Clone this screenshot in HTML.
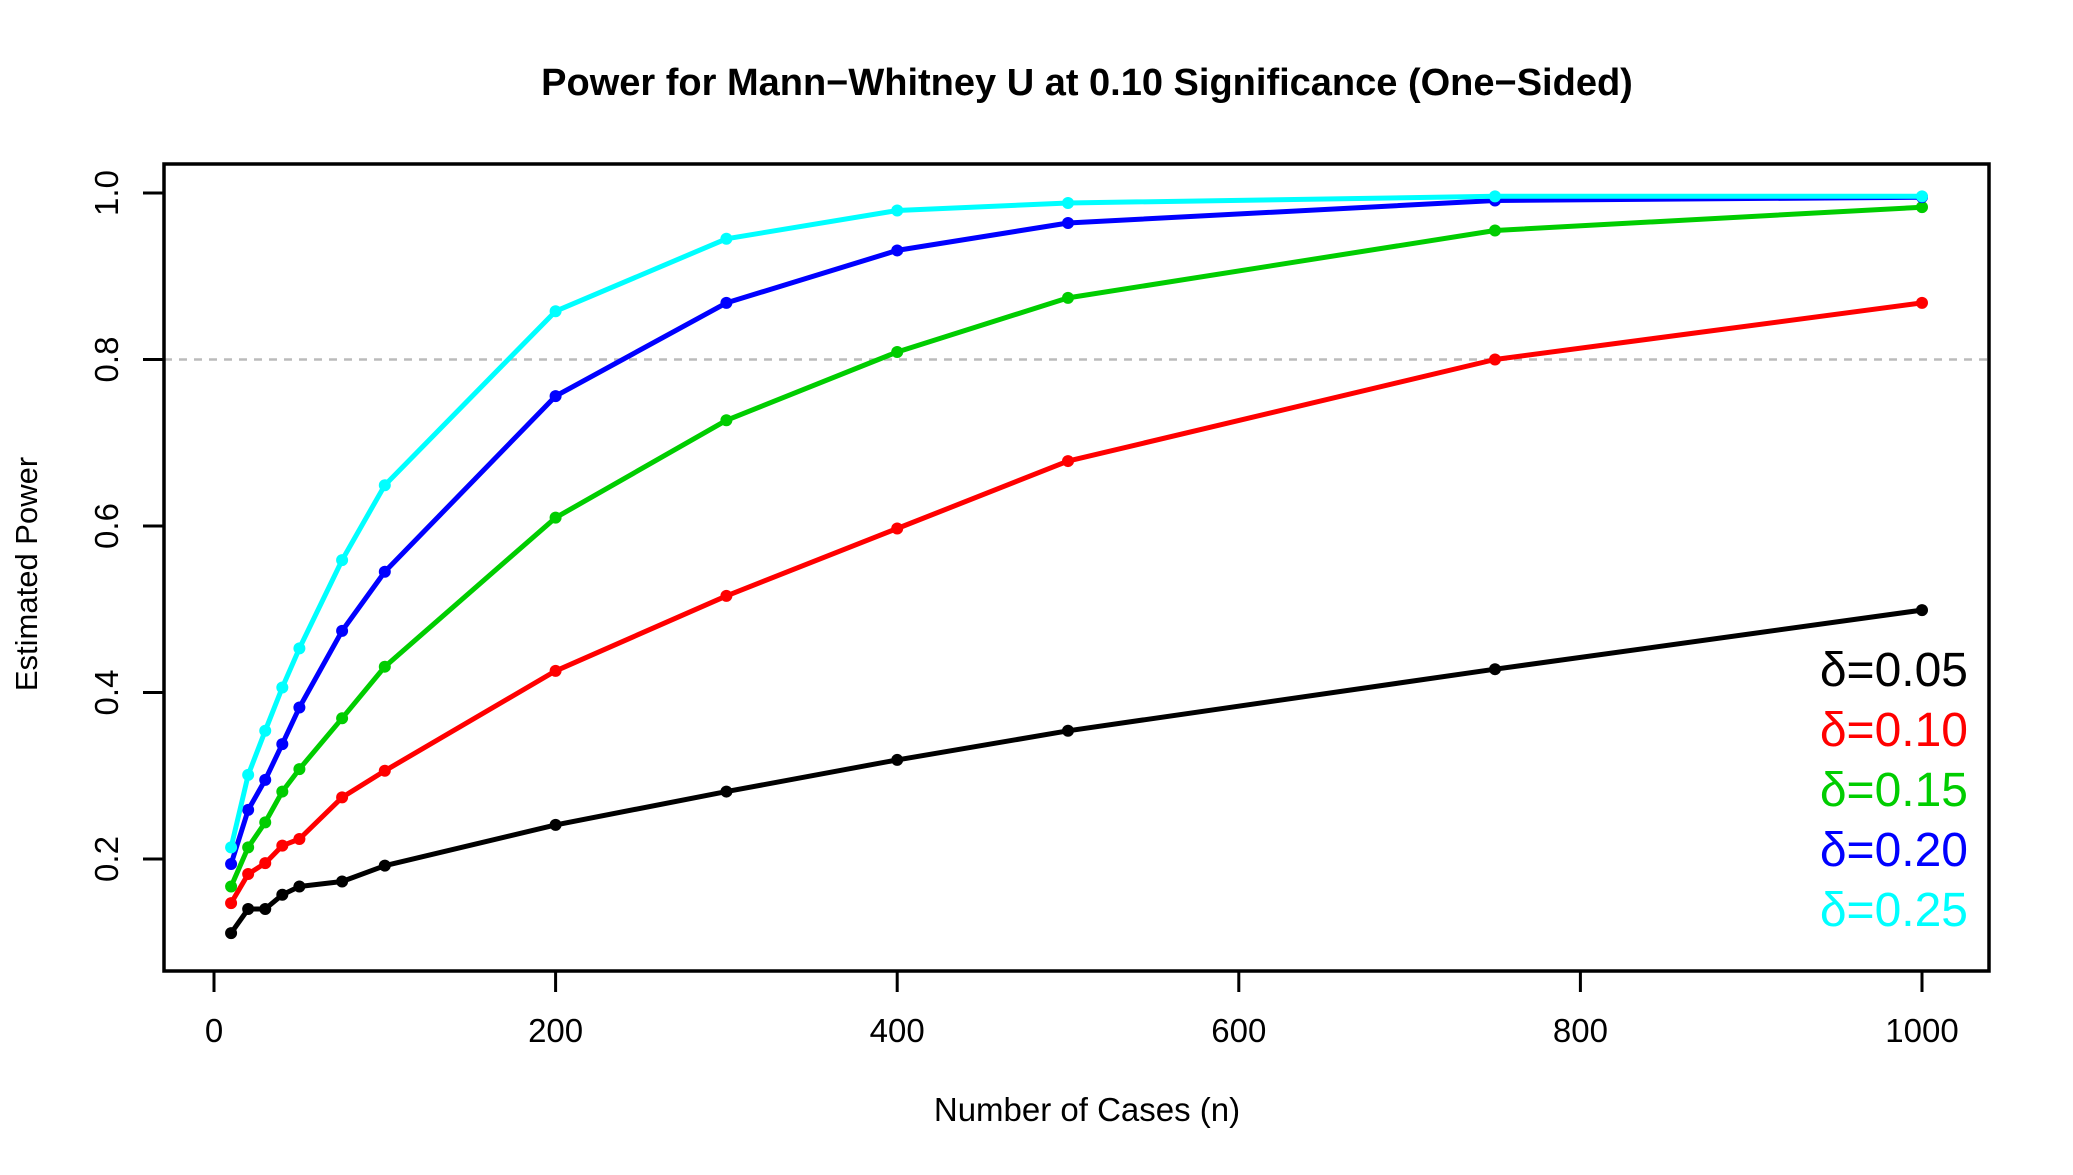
<!DOCTYPE html>
<html><head><meta charset="utf-8"><style>
html,body{margin:0;padding:0;background:#fff;}
svg{display:block;font-family:"Liberation Sans",Arial,sans-serif;}
</style></head><body>
<svg id="s" width="2073" height="1175" viewBox="0 0 2073 1175" xmlns="http://www.w3.org/2000/svg">
<rect width="2073" height="1175" fill="#fff"/>
<text x="1087" y="95" font-size="38" font-weight="bold" text-anchor="middle">Power for Mann−Whitney U at 0.10 Significance (One−Sided)</text>
<text x="1087" y="1121" font-size="33" text-anchor="middle">Number of Cases (n)</text>
<text transform="translate(37,574) rotate(-90)" font-size="31" text-anchor="middle">Estimated Power</text>
<line x1="164" y1="359.5" x2="1989" y2="359.5" stroke="#bbb" stroke-width="2.5" stroke-dasharray="8,7"/>
<g id="plot"></g>
<rect x="164" y="164" width="1825" height="807" fill="none" stroke="#000" stroke-width="3.5"/>
<g id="ax" stroke="#000" stroke-width="3"></g>
<g id="lab" font-size="33"></g>
<g font-size="48" text-anchor="end">
<text x="1968" y="686" fill="#000">δ=0.05</text>
<text x="1968" y="746" fill="#ff0000">δ=0.10</text>
<text x="1968" y="806" fill="#00cd00">δ=0.15</text>
<text x="1968" y="866" fill="#0000ff">δ=0.20</text>
<text x="1968" y="926" fill="#00ffff">δ=0.25</text>
</g>
</svg>
<script>
var NS="http://www.w3.org/2000/svg";
function X(n){return 214+n*1.708;}
function Y(v){return 193+(1-v)*832.5;}
function el(t,a,p){var e=document.createElementNS(NS,t);for(var k in a)e.setAttribute(k,a[k]);p.appendChild(e);return e;}
var ns=[10,20,30,40,50,75,100,200,300,400,500,750,1000];
var data=[
["#000",[0.111,0.140,0.140,0.157,0.167,0.173,0.192,0.241,0.281,0.319,0.354,0.428,0.499]],
["#ff0000",[0.147,0.182,0.195,0.216,0.224,0.274,0.306,0.426,0.516,0.597,0.678,0.800,0.868]],
["#00cd00",[0.167,0.214,0.244,0.281,0.308,0.369,0.431,0.610,0.727,0.809,0.874,0.955,0.983]],
["#0000ff",[0.194,0.259,0.295,0.338,0.382,0.474,0.545,0.756,0.868,0.931,0.964,0.991,0.995]],
["#00ffff",[0.214,0.301,0.354,0.406,0.453,0.559,0.649,0.858,0.945,0.979,0.988,0.996,0.996]]];
var p=document.getElementById("plot");
data.forEach(function(d){
 var pts=ns.map(function(n,i){return X(n).toFixed(1)+","+Y(d[1][i]).toFixed(1);}).join(" ");
 el("polyline",{points:pts,fill:"none",stroke:d[0],"stroke-width":5,"stroke-linejoin":"round"},p);
 ns.forEach(function(n,i){el("circle",{cx:X(n),cy:Y(d[1][i]),r:6,fill:d[0]},p);});
});
var ax=document.getElementById("ax"),lab=document.getElementById("lab");
[0,200,400,600,800,1000].forEach(function(n){
 el("line",{x1:X(n),y1:971,x2:X(n),y2:992},ax);
 var t=el("text",{x:X(n),y:1042,"text-anchor":"middle"},lab);t.textContent=n;
});
[0.2,0.4,0.6,0.8,1.0].forEach(function(v){
 el("line",{x1:143,y1:Y(v),x2:164,y2:Y(v)},ax);
 var t=el("text",{transform:"translate(118,"+Y(v)+") rotate(-90)","text-anchor":"middle"},lab);t.textContent=v.toFixed(1);
});
</script>
</body></html>
